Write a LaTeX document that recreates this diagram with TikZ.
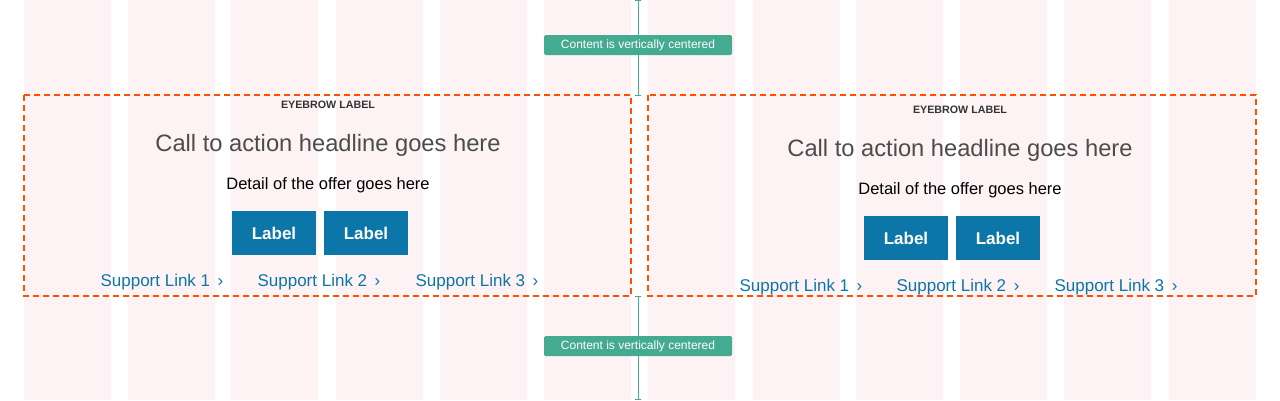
\documentclass[tikz,border=0pt]{standalone}
\usepackage{fontspec}
\setmainfont{Liberation Sans}
\definecolor{pinkc}{HTML}{FDF3F4}
\definecolor{greenc}{HTML}{45AB90}
\definecolor{bluec}{HTML}{0D76A8}
\definecolor{orangec}{HTML}{FF5000}
\begin{document}
\begin{tikzpicture}[x=1pt,y=-1pt,
  frame/.style={draw=orangec,line width=1.4pt,dash pattern=on 6pt off 4pt},
  tag/.style={fill=greenc,text=white,rounded corners=1.5pt,minimum width=188pt,minimum height=20pt,inner sep=0pt,font=\fontsize{12}{13}\selectfont},
  btn/.style={fill=bluec,text=white,minimum width=84pt,minimum height=44pt,inner sep=0pt,font=\fontsize{17}{19}\selectfont\bfseries},
  lnk/.style={text=bluec,inner sep=0pt,font=\fontsize{17}{19}\selectfont},
  eyebrow/.style={inner sep=0pt,font=\fontsize{10.7}{12}\selectfont\bfseries,text=black!80},
  head/.style={inner sep=0pt,font=\fontsize{23.7}{26}\selectfont,text=black!70},
  detail/.style={inner sep=0pt,font=\fontsize{16.5}{18}\selectfont},
  meas/.style={draw=greenc,line width=0.8pt}]
\useasboundingbox (0,0) rectangle (1280,400);
\foreach \x in {24,128,231,336,440,544,648,753,856,960,1064,1169}
  \fill[pinkc] (\x,0) rectangle ++(87,400);
% measures
\coordinate (t0) at (638,0); \coordinate (t1) at (638,95);
\coordinate (b0) at (638,296); \coordinate (b1) at (638,400);
\draw[meas] (t0) -- (t1); \draw[meas] (t1)++(-3,0) -- ++(6,0); \draw[meas] (t0)++(-3,0.5) -- ++(6,0);
\draw[meas] (b0) -- (b1); \draw[meas] (b0)++(-3,0) -- ++(6,0); \draw[meas] (b1)++(-3,-0.5) -- ++(6,0);
\node[tag] (tag1) at (638,45) {Content is vertically centered};
\node[tag] (tag2) at (638,346) {Content is vertically centered};
% frames
\draw[frame] (24,95) rectangle (631,296);
\draw[frame] (648,95) rectangle (1256,296);
% left content
\node[eyebrow] (e1) at (328,105) {EYEBROW LABEL};
\node[head] (h1) at (328,145) {Call to action headline goes here};
\node[detail] (d1) at (328,185) {Detail of the offer goes here};
\node[btn] (b1a) at (274,233) {Label};
\node[btn] (b1b) at (366,233) {Label};
\node[lnk] (l1a) at (162,282) {Support Link 1 \,›};
\node[lnk] (l1b) at (319,282) {Support Link 2 \,›};
\node[lnk] (l1c) at (477,282) {Support Link 3 \,›};
% right content
\node[eyebrow] (e2) at (960,110) {EYEBROW LABEL};
\node[head] (h2) at (960,150) {Call to action headline goes here};
\node[detail] (d2) at (960,190) {Detail of the offer goes here};
\node[btn] (b2a) at (906,238) {Label};
\node[btn] (b2b) at (998,238) {Label};
\node[lnk] (l2a) at (801,287) {Support Link 1 \,›};
\node[lnk] (l2b) at (958,287) {Support Link 2 \,›};
\node[lnk] (l2c) at (1116,287) {Support Link 3 \,›};
\end{tikzpicture}
\end{document}
